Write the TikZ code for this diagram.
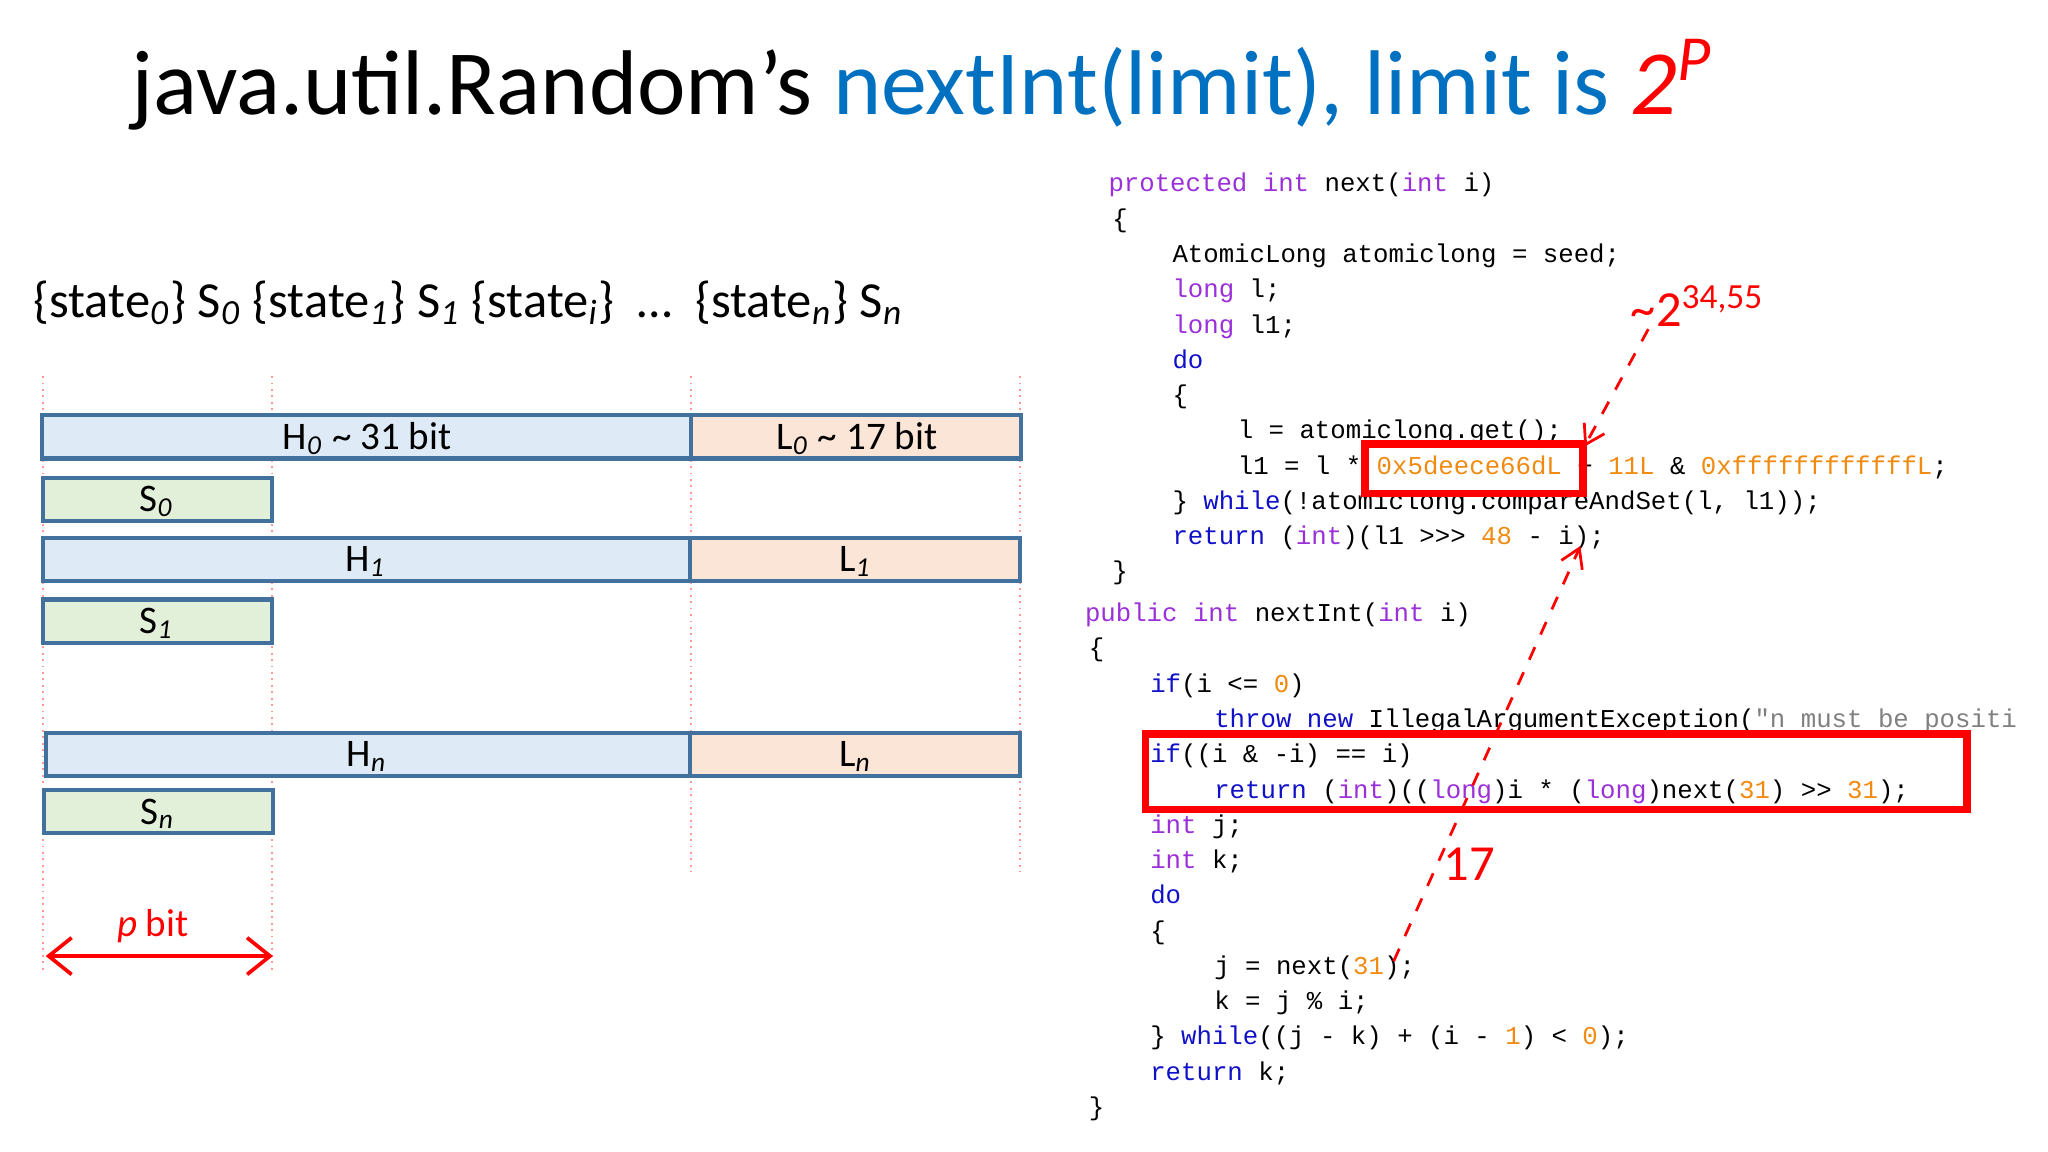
\documentclass[tikz,border=0pt]{standalone}
\usepackage{fontspec}
\setmainfont{Carlito}
\newfontfamily\cfont{Liberation Mono}
\usetikzlibrary{arrows.meta}
\definecolor{tblue}{HTML}{0070C0}
\definecolor{tred}{HTML}{FF0000}
\definecolor{hfill}{HTML}{DEEBF7}
\definecolor{lfill}{HTML}{FBE5D6}
\definecolor{sfill}{HTML}{E2F0D9}
\definecolor{bstroke}{HTML}{41719C}
\definecolor{kwp}{HTML}{9B30D9}
\definecolor{kwb}{HTML}{1010C8}
\definecolor{numo}{HTML}{F08A10}
\definecolor{strg}{HTML}{808080}
\newcommand{\kw}[1]{\textcolor{kwp}{#1}}
\newcommand{\kb}[1]{\textcolor{kwb}{#1}}
\newcommand{\nm}[1]{\textcolor{numo}{#1}}
\tikzset{
  hbox/.style={draw=bstroke, fill=hfill, line width=0.9pt},
  lbox/.style={draw=bstroke, fill=lfill, line width=0.9pt},
  sbox/.style={draw=bstroke, fill=sfill, line width=0.9pt},
  guide/.style={draw=tred!40, densely dotted, line width=0.4pt},
  code/.style={anchor=base west, inner sep=0pt, font=\cfont\fontsize{5.6}{6}\selectfont},
  redbox/.style={draw=tred, line width=1.6pt},
  redarrow/.style={draw=tred, dashed, line width=0.6pt, -{Straight Barb[length=4pt,width=5pt]}},
  blabel/.style={font=\fontsize{8.5}{10}\selectfont, inner sep=0pt}
}
\begin{document}
\begin{tikzpicture}[x=0.01cm,y=-0.01cm]
\useasboundingbox (0,0) rectangle (1568,882);
% title
\node[anchor=base west, inner sep=0pt, font=\fontsize{20}{24}\selectfont] (title) at (100,88)
  {java.util.Random’s \textcolor{tblue}{nextInt(limit), limit is} \textcolor{tred}{\textit{2\textsuperscript{P}}}};
% states
\node[anchor=base west, inner sep=0pt, font=\fontsize{11}{13}\selectfont] (states) at (25,243)
  {\{state\textsubscript{\textit{0}}\} S\textsubscript{\textit{0}} \{state\textsubscript{\textit{1}}\} S\textsubscript{\textit{1}} \{state\textsubscript{\textit{i}}\}\ \ … \ \{state\textsubscript{\textit{n}}\} S\textsubscript{\textit{n}}};
% guides
\coordinate (g1t) at (33,288); \coordinate (g1b) at (33,745);
\coordinate (g2t) at (208,288); \coordinate (g2b) at (208,745);
\coordinate (g3t) at (529,288); \coordinate (g3b) at (529,668);
\coordinate (g4t) at (781,288); \coordinate (g4b) at (781,668);
\draw[guide] (g1t) -- (g1b); \draw[guide] (g2t) -- (g2b);
\draw[guide] (g3t) -- (g3b); \draw[guide] (g4t) -- (g4b);
% boxes
\draw[hbox] (32,318) rectangle (529,351);
\draw[lbox] (529,318) rectangle (782,351);
\node[blabel] (h0) at (281,336) {H\textsubscript{\textit{0}} \textasciitilde\ 31 bit};
\node[blabel] (l0) at (656,336) {L\textsubscript{\textit{0}} \textasciitilde\ 17 bit};
\draw[sbox] (33,366) rectangle (208,399);
\node[blabel] (s0) at (120,384) {S\textsubscript{\textit{0}}};
\draw[hbox] (33,412) rectangle (528,445);
\draw[lbox] (528,412) rectangle (781,445);
\node[blabel] (h1) at (280,430) {H\textsubscript{\textit{1}}};
\node[blabel] (l1) at (655,430) {L\textsubscript{\textit{1}}};
\draw[sbox] (33,459) rectangle (208,492);
\node[blabel] (s1) at (120,477) {S\textsubscript{\textit{1}}};
\draw[hbox] (35,561) rectangle (528,594);
\draw[lbox] (528,561) rectangle (781,594);
\node[blabel] (hn) at (281,579) {H\textsubscript{\textit{n}}};
\node[blabel] (ln) at (655,579) {L\textsubscript{\textit{n}}};
\draw[sbox] (34,605) rectangle (209,638);
\node[blabel] (sn) at (121,623) {S\textsubscript{\textit{n}}};
% p bit
\coordinate (pa) at (35,732); \coordinate (pb) at (209,732);
\draw[tred, line width=0.8pt, {Straight Barb[length=5pt,width=8pt]}-{Straight Barb[length=5pt,width=8pt]}] (pa) -- (pb);
\node[blabel, text=tred] (pbit) at (117,709) {\textit{p} bit};
% code
\node[code] (c1) at (848,147) {\kw{protected int} next(\kw{int} i)};
\node[code] (c2) at (851,174) {\{};
\node[code] (c3) at (897,201) {AtomicLong atomiclong = seed;};
\node[code] (c4) at (897,228) {\kw{long} l;};
\node[code] (c5) at (897,255) {\kw{long} l1;};
\node[code] (c6) at (897,282) {\kb{do}};
\node[code] (c7) at (897,309) {\{};
\node[code] (c8) at (947,336) {l = atomiclong.get();};
\node[code] (c9) at (947,363) {l1 = l * \nm{0x5deece66dL} + \nm{11L} \& \nm{0xffffffffffffL};};
\node[code] (c10) at (897,390) {\} \kb{while}(!atomiclong.compareAndSet(l, l1));};
\node[code] (c11) at (897,417) {\kb{return} (\kw{int})(l1 >>> \nm{48} - i);};
\node[code] (c12) at (851,444) {\}};
\node[code] (d1) at (830,476) {\kw{public int} nextInt(\kw{int} i)};
\node[code] (d2) at (833,503) {\{};
\node[code] (d3) at (880,530) {\kb{if}(i <= \nm{0})};
\node[code] (d4) at (929,557) {\kb{throw new} IllegalArgumentException(\textcolor{strg}{"n must be positi}};
\node[code] (d5) at (880,584) {\kb{if}((i \& -i) == i)};
\node[code] (d6) at (929,611) {\kb{return} (\kw{int})((\kw{long})i * (\kw{long})next(\nm{31}) >> \nm{31});};
\node[code] (d7) at (880,638) {\kw{int} j;};
\node[code] (d8) at (880,665) {\kw{int} k;};
\node[code] (d9) at (880,692) {\kb{do}};
\node[code] (d10) at (880,719) {\{};
\node[code] (d11) at (929,746) {j = next(\nm{31});};
\node[code] (d12) at (929,773) {k = j \% i;};
\node[code] (d13) at (880,800) {\} \kb{while}((j - k) + (i - \nm{1}) < \nm{0});};
\node[code] (d14) at (880,827) {\kb{return} k;};
\node[code] (d15) at (833,854) {\}};
% red boxes
\draw[redbox] (1045,340) rectangle (1212,378);
\draw[redbox] (877,562) rectangle (1506,620);
% annotations
\node[anchor=base west, inner sep=0pt, text=tred, font=\fontsize{11}{13}\selectfont] (exp) at (1248,250) {\textasciitilde 2\textsuperscript{34,55}};
\node[inner sep=0pt, text=tred, font=\fontsize{11}{13}\selectfont] (n17) at (1125,662) {17};
\coordinate (a1s) at (1262,252); \coordinate (a1e) at (1213,342);
\coordinate (a2s) at (1067,736); \coordinate (a2e) at (1210,418);
\draw[redarrow] (a1s) -- (a1e);
\draw[redarrow] (a2s) -- (a2e);
\end{tikzpicture}
\end{document}
